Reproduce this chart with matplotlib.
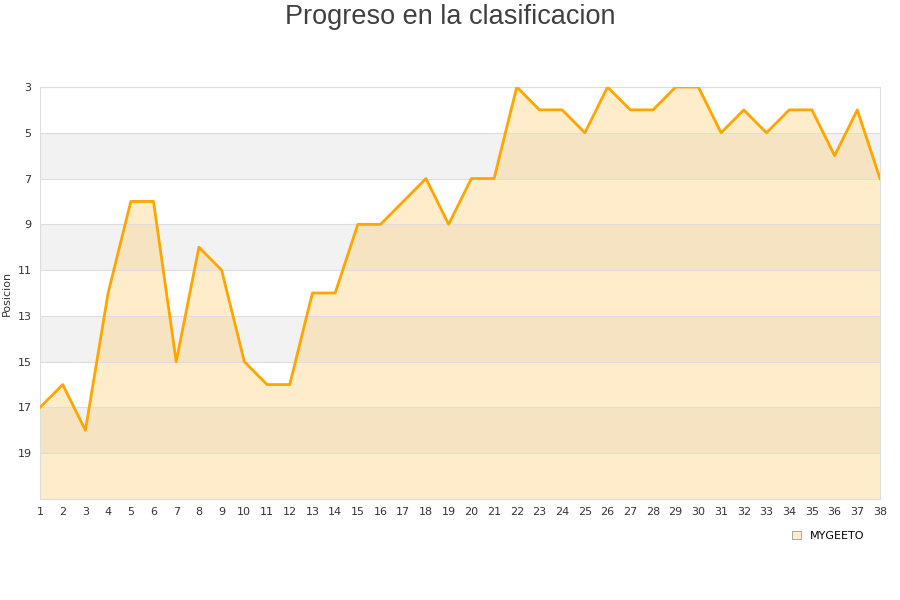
import numpy as np
import matplotlib.pyplot as plt
from matplotlib.patches import Patch

jornadas = list(range(1, 39))
posicion = [17, 16, 18, 12, 8, 8, 15, 10, 11, 15, 16, 16, 12, 12, 9, 9, 8, 7, 9, 7,
            7, 3, 4, 4, 5, 3, 4, 4, 3, 3, 5, 4, 5, 4, 4, 6, 4, 7]
equipo = 'MYGEETO'
yticks = [3, 5, 7, 9, 11, 13, 15, 17, 19]

fig = plt.figure(figsize=(9, 6), dpi=100)
ax = fig.add_axes([40/900, 101/600, 840/900, 412/600])

# bandas alternas
for lo in range(5, 21, 4):
    ax.axhspan(lo, lo + 2, color='#f2f2f2', zorder=0, lw=0)

ax.fill_between(jornadas, posicion, 21, color=(1.0, 0.765, 0.333), alpha=0.3, lw=0, zorder=1)
ax.plot(jornadas, posicion, color='#ffa500', lw=2.0, zorder=3)

ax.set_xlim(1, 38)
ax.set_ylim(21, 3)
ax.set_xticks(jornadas)
ax.set_yticks(yticks)
ax.tick_params(length=0, labelsize=8, colors='#333333', pad=6)
ax.grid(axis='y', color='#dddddd', lw=0.8, zorder=2)
for s in ax.spines.values():
    s.set_color('#dddddd')
ax.set_ylabel('Posicion', fontsize=8, color='#333333', labelpad=4)

fig.suptitle('Progreso en la clasificacion', fontsize=19.5, color='#404040', y=0.993,
             family='Liberation Sans')

handle = Patch(facecolor='#ffedcc', edgecolor='#999999', lw=0.6)
fig.legend([handle], [equipo], loc='center', bbox_to_anchor=(0.92, 0.107),
           frameon=False, fontsize=8, handlelength=0.8, handleheight=0.8)

plt.savefig('out.png')
